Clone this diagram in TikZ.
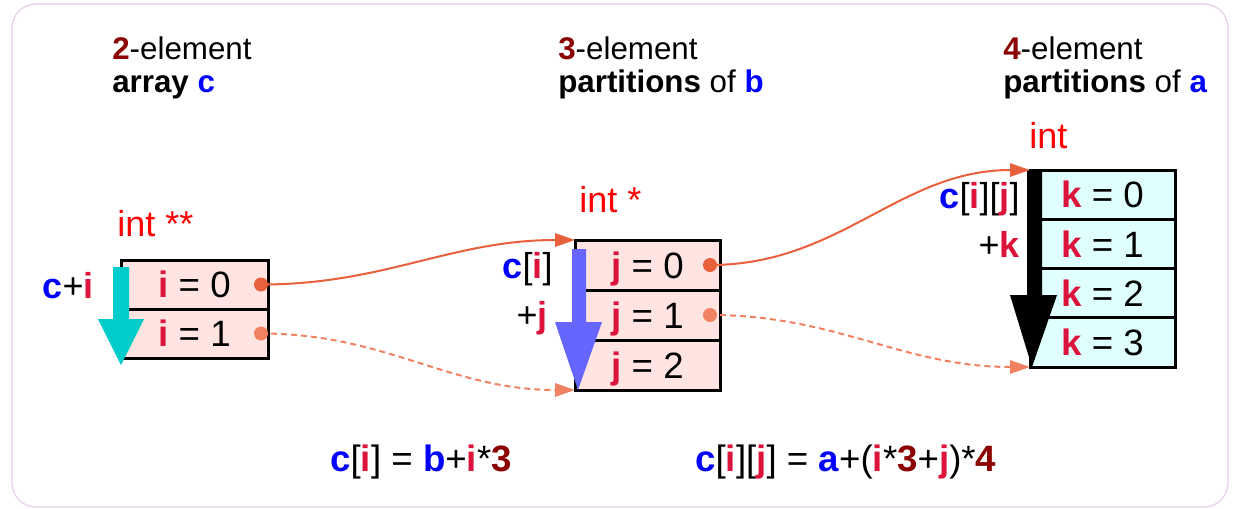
\documentclass[tikz,border=0pt]{standalone}
\usepackage{fontspec}
\setmainfont{Liberation Sans}
\usetikzlibrary{arrows.meta}
\definecolor{crim}{HTML}{DC143C}
\definecolor{bl}{HTML}{0000FF}
\definecolor{dred}{HTML}{8B0000}
\definecolor{intred}{HTML}{FF0000}
\definecolor{pinkf}{HTML}{FFE4E1}
\definecolor{cyanf}{HTML}{E0FFFF}
\definecolor{cyanarr}{HTML}{00CCCC}
\definecolor{bluearr}{HTML}{6666FF}
\definecolor{orsolid}{HTML}{E8603C}
\definecolor{ordash}{HTML}{F08262}
\definecolor{framec}{HTML}{E6D0E6}
\newcommand\cvar[1]{\textcolor{crim}{\textbf{#1}}}
\newcommand\cblue[1]{\textcolor{bl}{\textbf{#1}}}
\newcommand\cdred[1]{\textcolor{dred}{\textbf{#1}}}
\tikzset{
  cellbase/.style={draw, line width=2.25pt, inner sep=0pt, outer sep=0pt,
    font=\fontsize{27.5}{33}\selectfont, text height=19.8pt, text depth=0pt},
  cellc/.style={cellbase, fill=pinkf, minimum width=110.25pt, minimum height=36.75pt},
  cellb/.style={cellbase, fill=pinkf, minimum width=108.75pt, minimum height=37.5pt},
  cella/.style={cellbase, fill=cyanf, minimum width=108.75pt, minimum height=36.9pt},
  lbl/.style={inner sep=0pt, font=\fontsize{27}{32}\selectfont},
  intlbl/.style={lbl, text=intred, anchor=base west},
  sidelbl/.style={lbl, anchor=base east},
  hdr/.style={inner sep=0pt, anchor=base west, font=\fontsize{23.5}{28}\selectfont},
  formula/.style={inner sep=0pt, anchor=base west, font=\fontsize{27.5}{33}\selectfont},
  conn/.style={line width=1.5pt, -{Triangle[length=15pt,width=10pt]}},
  solidconn/.style={conn, orsolid},
  dashconn/.style={conn, ordash, dash pattern=on 4.5pt off 3pt},
  dotsolid/.style={fill=orsolid},
  dotdash/.style={fill=ordash}
}
\begin{document}
\begin{tikzpicture}[x=0.75pt,y=-0.75pt]
\useasboundingbox (0,0) rectangle (1233,508);
\draw[framec, line width=0.9pt, rounded corners=18pt] (12,4) rectangle (1228,507);

% headers
\node[hdr] (h2a) at (112,59) {\cdred{2}-element};
\node[hdr] (h2b) at (112,92) {\textbf{array} \cblue{c}};
\node[hdr] (h3a) at (558,59) {\cdred{3}-element};
\node[hdr] (h3b) at (558,92) {\textbf{partitions} of \cblue{b}};
\node[hdr] (h4a) at (1003,59) {\cdred{4}-element};
\node[hdr] (h4b) at (1003,92) {\textbf{partitions} of \cblue{a}};

% cells
\node[cellc] (c0) at (194.5,284.5) {\cvar{i} = 0};
\node[cellc] (c1) at (194.5,333.5) {\cvar{i} = 1};
\node[cellb] (b0) at (647.5,265) {\cvar{j} = 0};
\node[cellb] (b1) at (647.5,315) {\cvar{j} = 1};
\node[cellb] (b2) at (647.5,365) {\cvar{j} = 2};
\node[cella] (a0) at (1102.5,194.6) {\cvar{k} = 0};
\node[cella] (a1) at (1102.5,243.9) {\cvar{k} = 1};
\node[cella] (a2) at (1102.5,293.1) {\cvar{k} = 2};
\node[cella] (a3) at (1102.5,342.4) {\cvar{k} = 3};

% type labels
\node[intlbl] (t2) at (117,236) {int **};
\node[intlbl] (t1) at (579,212) {int *};
\node[intlbl] (t0) at (1029,148) {int};

% side labels
\node[sidelbl] (sc) at (94,298) {\cblue{c}+\cvar{i}};
\node[sidelbl] (sb1) at (553,278) {\cblue{c}[\cvar{i}]};
\node[sidelbl] (sb2) at (548,327) {+\cvar{j}};
\node[sidelbl] (sa1) at (1020,208) {\cblue{c}[\cvar{i}][\cvar{j}]};
\node[sidelbl] (sa2) at (1020,257) {+\cvar{k}};

% big index arrows
\fill[cyanarr] (113,267) -- (129,267) -- (129,319) -- (144,319) -- (121,365) -- (98,319) -- (113,319) -- cycle;
\fill[bluearr] (572,249) -- (586,249) -- (586,322) -- (602,322) -- (578,390) -- (555,322) -- (572,322) -- cycle;
\fill[black] (1027,170) -- (1042,170) -- (1042,295) -- (1057,295) -- (1032,367) -- (1010,295) -- (1027,295) -- cycle;

% connectors
\coordinate (dc0) at ([xshift=-5.25pt]c0.east);
\coordinate (dc1) at ([xshift=-5.25pt]c1.east);
\coordinate (db0) at ([xshift=-7.5pt]b0.east);
\coordinate (db1) at ([xshift=-7.5pt]b1.east);
\draw[solidconn] (dc0) to[out=0,in=180] (b0.north west);
\draw[dashconn] (dc1) to[out=0,in=180] (b2.south west);
\draw[solidconn] (db0) to[out=0,in=180] (a0.north west);
\draw[dashconn] (db1) to[out=0,in=180] (a3.south west);
\fill[dotsolid] (dc0) circle[radius=5.25pt];
\fill[dotdash] (dc1) circle[radius=5.25pt];
\fill[dotsolid] (db0) circle[radius=5.25pt];
\fill[dotdash] (db1) circle[radius=5.25pt];

% formulas
\node[formula] (f1) at (330,471) {\cblue{c}[\cvar{i}] = \cblue{b}+\cvar{i}*\cdred{3}};
\node[formula] (f2) at (695,471) {\cblue{c}[\cvar{i}][\cvar{j}] = \cblue{a}+(\cvar{i}*\cdred{3}+\cvar{j})*\cdred{4}};
\end{tikzpicture}
\end{document}
